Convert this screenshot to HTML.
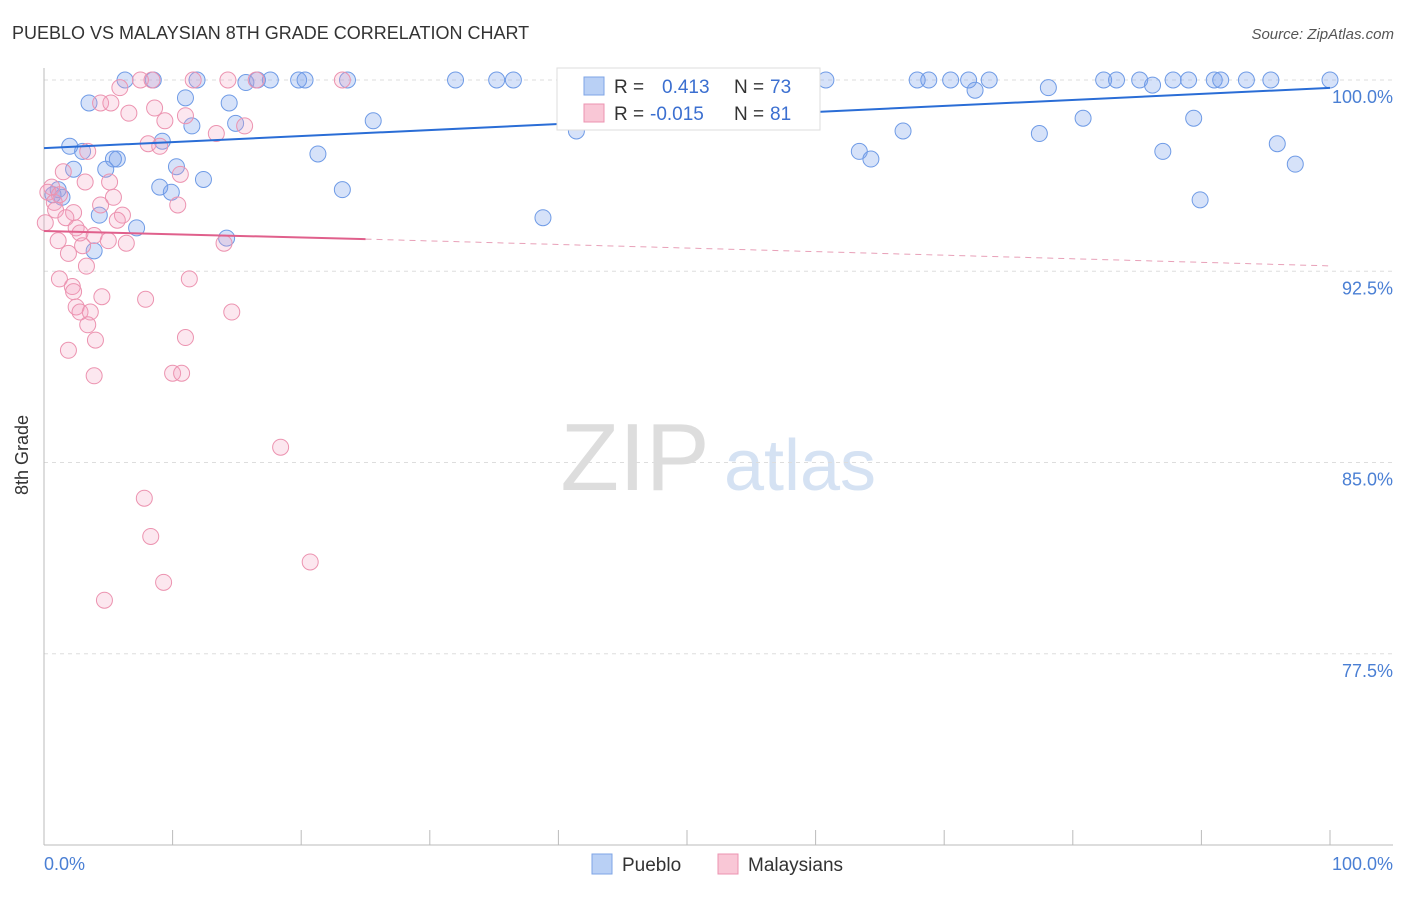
<!DOCTYPE html>
<html><head><meta charset="utf-8">
<style>
body{margin:0;background:#fff;font-family:"Liberation Sans",sans-serif;}
svg text{font-family:"Liberation Sans",sans-serif;}
</style></head>
<body>
<svg id="chart" width="1406" height="892" viewBox="0 0 1406 892" xmlns="http://www.w3.org/2000/svg">
<text x="12" y="39" font-size="18" fill="#333">PUEBLO VS MALAYSIAN 8TH GRADE CORRELATION CHART</text>
<text x="1394" y="39" font-size="15" fill="#555" text-anchor="end" font-style="italic">Source: ZipAtlas.com</text>
<g>
<text x="635" y="490" font-size="96" fill="#ddd" text-anchor="middle" font-family="Liberation Serif">ZIP</text>
<text x="800" y="490" font-size="72" fill="#d5e2f3" text-anchor="middle">atlas</text>
</g>
<g id="grid"></g>
<g id="axes"></g>
<g id="marks"></g>
<g id="trends"></g>
<text x="28" y="455" font-size="18" fill="#333" text-anchor="middle" transform="rotate(-90 28 455)">8th Grade</text>
<text x="44" y="870" font-size="18" fill="#4a7fd4">0.0%</text>
<text x="1393" y="870" font-size="18" fill="#4a7fd4" text-anchor="end">100.0%</text>
<g>
<rect x="557" y="68" width="263" height="62" fill="#fff" stroke="#ddd"/>
<rect x="584" y="77" width="20" height="18" fill="#b9d0f5" stroke="#7ea4e6"/>
<text x="614" y="93" font-size="19" fill="#333">R = </text>
<text x="662" y="93" font-size="19" fill="#3b6fd0">0.413</text>
<text x="734" y="93" font-size="19" fill="#333">N = </text>
<text x="770" y="93" font-size="19" fill="#3b6fd0">73</text>
<rect x="584" y="104" width="20" height="18" fill="#f9c7d6" stroke="#ec93b0"/>
<text x="614" y="120" font-size="19" fill="#333">R = </text>
<text x="650" y="120" font-size="19" fill="#3b6fd0">-0.015</text>
<text x="734" y="120" font-size="19" fill="#333">N = </text>
<text x="770" y="120" font-size="19" fill="#3b6fd0">81</text>
</g>
<g>
<rect x="592" y="854" width="20" height="20" fill="#b9d0f5" stroke="#7ea4e6"/>
<text x="622" y="871" font-size="19" fill="#333">Pueblo</text>
<rect x="718" y="854" width="20" height="20" fill="#f9c7d6" stroke="#ec93b0"/>
<text x="748" y="871" font-size="19" fill="#333">Malaysians</text>
</g>
</svg>
<script>
const yTicks=[100,92.5,85,77.5];
const yTickLabels=["100.0%","92.5%","85.0%","77.5%"];
const xTicks=[0,10,20,30,40,50,60,70,80,90,100];
const blueX=[6.3,8.5,11.9,15.7,16.6,17.6,19.8,20.3,23.6,32.0,35.2,36.5,42.3,46.9,60.8,67.9,68.8,70.5,71.9,72.4,73.5,78.1,82.4,83.4,85.2,86.2,87.8,89.0,91.0,91.5,93.5,95.4,100,3.5,11.0,14.4,14.9,11.5,25.6,80.8,89.4,41.4,66.8,77.4,2.0,3.0,9.2,5.7,5.4,4.8,2.3,10.3,21.3,63.4,64.3,87.0,95.9,97.3,12.4,9.0,9.9,23.2,1.1,0.7,1.4,4.3,38.8,89.9,7.2,14.2,3.9];
const blueY=[100,100,100,99.9,100,100,100,100,100,100,100,100,100,100,100,100,100,100,100,99.6,100,99.7,100,100,100,99.8,100,100,100,100,100,100,100,99.1,99.3,99.1,98.3,98.2,98.4,98.5,98.5,98.0,98.0,97.9,97.4,97.2,97.6,96.9,96.9,96.5,96.5,96.6,97.1,97.2,96.9,97.2,97.5,96.7,96.1,95.8,95.6,95.7,95.7,95.5,95.4,94.7,94.6,95.3,94.2,93.8,93.3];
const pinkX=[7.5,8.4,11.6,14.3,16.5,23.2,5.9,4.4,5.2,8.6,6.6,11.0,9.4,15.6,13.4,8.1,9.0,3.4,10.6,1.5,5.1,3.2,0.6,0.3,1.2,0.8,5.4,4.4,10.4,0.9,2.3,1.7,6.1,5.7,0.1,2.5,2.8,3.9,1.1,5.0,6.4,14.0,3.0,1.9,3.3,1.2,2.2,2.3,11.3,4.5,7.9,2.5,2.8,3.6,3.4,14.6,11.0,4.0,1.9,3.9,10.0,10.7,18.4,7.8,8.3,20.7,9.3,4.7];
const pinkY=[100,100,100,100,100,100,99.7,99.1,99.1,98.9,98.7,98.6,98.4,98.2,97.9,97.5,97.4,97.2,96.3,96.4,96.0,96.0,95.8,95.6,95.5,95.2,95.4,95.1,95.1,94.9,94.8,94.6,94.7,94.5,94.4,94.2,94.0,93.9,93.7,93.7,93.6,93.6,93.5,93.2,92.7,92.2,91.9,91.7,92.2,91.5,91.4,91.1,90.9,90.9,90.4,90.9,89.9,89.8,89.4,88.4,88.5,88.5,85.6,83.6,82.1,81.1,80.3,79.6];
const blueTrendX=[0,100];
const blueTrendY=[97.33,99.69];
const pinkTrendX=[0,25,100];
const pinkTrendY=[94.08,93.76,92.71];

const NS="http://www.w3.org/2000/svg";
const xs=v=>44+v*12.86;
const ys=v=>80+(100-v)*25.5;
function mk(tag,attrs,parent){const e=document.createElementNS(NS,tag);for(const k in attrs)e.setAttribute(k,attrs[k]);parent.appendChild(e);return e;}
const grid=document.getElementById('grid'),axes=document.getElementById('axes'),marks=document.getElementById('marks'),trends=document.getElementById('trends');
yTicks.forEach((t,i)=>{
  const l=mk('line',{x1:44,x2:1393,y1:ys(t),y2:ys(t),stroke:'#ddd','stroke-dasharray':'4,4'},grid);
  
  
  const tx=mk('text',{x:1393,y:ys(t)+23,'font-size':18,fill:'#4a7fd4','text-anchor':'end'},axes);
  tx.textContent=yTickLabels[i];
  
  
});
const ya=mk('line',{x1:44,x2:44,y1:68,y2:845,stroke:'#bbb'},axes);


const xa=mk('line',{x1:44,x2:1393,y1:845,y2:845,stroke:'#bbb'},axes);


xTicks.forEach(t=>{
  const l=mk('line',{x1:xs(t),x2:xs(t),y1:830,y2:845,stroke:'#bbb'},axes);
  
  
});
blueX.forEach((v,i)=>{
  const c=mk('circle',{cx:xs(v),cy:ys(blueY[i]),r:8,fill:'rgba(120,160,235,0.3)',stroke:'#6f9be6','stroke-width':1},marks);
  
  
});
pinkX.forEach((v,i)=>{
  const c=mk('circle',{cx:xs(v),cy:ys(pinkY[i]),r:8,fill:'rgba(245,160,190,0.25)',stroke:'#ec93b0','stroke-width':1},marks);
  
  
});
const bt=mk('line',{x1:xs(blueTrendX[0]),y1:ys(blueTrendY[0]),x2:xs(blueTrendX[1]),y2:ys(blueTrendY[1]),stroke:'#2a6dd6','stroke-width':2},trends);


const pt=mk('line',{x1:xs(pinkTrendX[0]),y1:ys(pinkTrendY[0]),x2:xs(pinkTrendX[1]),y2:ys(pinkTrendY[1]),stroke:'#e0608c','stroke-width':2},trends);


const pd=mk('line',{x1:xs(pinkTrendX[1]),y1:ys(pinkTrendY[1]),x2:xs(pinkTrendX[2]),y2:ys(pinkTrendY[2]),stroke:'#e8a0b8','stroke-width':1,'stroke-dasharray':'6,5'},trends);


</script>
</body></html>
